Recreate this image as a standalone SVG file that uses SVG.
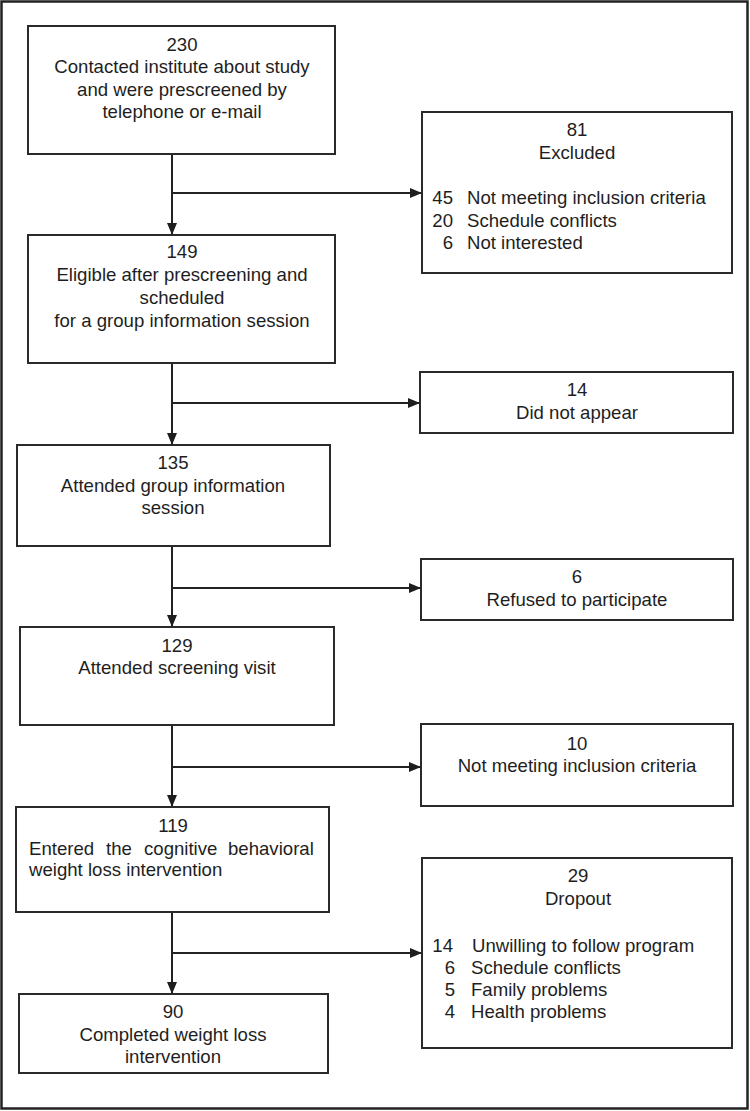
<svg xmlns="http://www.w3.org/2000/svg" width="750" height="1111" viewBox="0 0 750 1111">
<defs>
<style>
.box{fill:#fff;stroke:#2a2a2a;stroke-width:2}
.ln{fill:none;stroke:#222;stroke-width:2}
text{font-family:"Liberation Sans",Arial,sans-serif;font-size:18.6px;fill:#1e1e1e}
.c{text-anchor:middle}
.r{text-anchor:end}
</style>
<marker id="ah" viewBox="0 0 12 10" refX="12" refY="5" markerWidth="12" markerHeight="10" markerUnits="userSpaceOnUse" orient="auto">
<path d="M0,0 L12,5 L0,10 Z" fill="#1e1e1e"/>
</marker>
</defs>
<rect x="0" y="0" width="750" height="1111" fill="#fff"/>
<rect x="1.5" y="1.5" width="746" height="1107" fill="none" stroke="#222" stroke-width="2.5"/>

<g id="connectors">
<path class="ln" d="M172,154 V235" marker-end="url(#ah)"/>
<path class="ln" d="M172,193 H422" marker-end="url(#ah)"/>
<path class="ln" d="M172,363 V445" marker-end="url(#ah)"/>
<path class="ln" d="M172,403 H420" marker-end="url(#ah)"/>
<path class="ln" d="M172,546 V627" marker-end="url(#ah)"/>
<path class="ln" d="M172,588 H421" marker-end="url(#ah)"/>
<path class="ln" d="M172,726 V807" marker-end="url(#ah)"/>
<path class="ln" d="M172,767 H421" marker-end="url(#ah)"/>
<path class="ln" d="M172,912 V994" marker-end="url(#ah)"/>
<path class="ln" d="M172,953 H422" marker-end="url(#ah)"/>
</g>

<g id="n230">
<rect class="box" x="28" y="26" width="307" height="128"/>
<text class="c" x="182" y="51">230</text>
<text class="c" x="182" y="73">Contacted institute about study</text>
<text class="c" x="182" y="96">and were prescreened by</text>
<text class="c" x="182" y="118">telephone or e-mail</text>
</g>

<g id="n81">
<rect class="box" x="422" y="112" width="310" height="161"/>
<text class="c" x="577" y="136">81</text>
<text class="c" x="577" y="159">Excluded</text>
<text class="r" x="453" y="204">45</text><text x="467" y="204">Not meeting inclusion criteria</text>
<text class="r" x="453" y="227">20</text><text x="467" y="227">Schedule conflicts</text>
<text class="r" x="453" y="249">6</text><text x="467" y="249">Not interested</text>
</g>

<g id="n149">
<rect class="box" x="28" y="235" width="307" height="128"/>
<text class="c" x="182" y="258">149</text>
<text class="c" x="182" y="281">Eligible after prescreening and</text>
<text class="c" x="182" y="304">scheduled</text>
<text class="c" x="182" y="327">for a group information session</text>
</g>

<g id="n14">
<rect class="box" x="420" y="372" width="313" height="61"/>
<text class="c" x="577" y="396">14</text>
<text class="c" x="577" y="419">Did not appear</text>
</g>

<g id="n135">
<rect class="box" x="17" y="445" width="313" height="101"/>
<text class="c" x="173" y="469">135</text>
<text class="c" x="173" y="492">Attended group information</text>
<text class="c" x="173" y="514">session</text>
</g>

<g id="n6">
<rect class="box" x="421" y="559" width="312" height="61"/>
<text class="c" x="577" y="583">6</text>
<text class="c" x="577" y="606">Refused to participate</text>
</g>

<g id="n129">
<rect class="box" x="20" y="627" width="314" height="98"/>
<text class="c" x="177" y="652">129</text>
<text class="c" x="177" y="674">Attended screening visit</text>
</g>

<g id="n10">
<rect class="box" x="421" y="724" width="312" height="82"/>
<text class="c" x="577" y="750">10</text>
<text class="c" x="577" y="772">Not meeting inclusion criteria</text>
</g>

<g id="n119">
<rect class="box" x="16" y="807" width="313" height="105"/>
<text class="c" x="173" y="832">119</text>
<text y="855"><tspan x="29">Entered</tspan><tspan x="106">the</tspan><tspan x="144">cognitive</tspan><tspan x="228">behavioral</tspan></text>
<text x="29" y="876">weight loss intervention</text>
</g>

<g id="n29">
<rect class="box" x="422" y="858" width="310" height="190"/>
<text class="c" x="578" y="882">29</text>
<text class="c" x="578" y="905">Dropout</text>
<text class="r" x="453" y="952">14</text><text x="472" y="952">Unwilling to follow program</text>
<text class="r" x="455" y="974">6</text><text x="471" y="974">Schedule conflicts</text>
<text class="r" x="455" y="996">5</text><text x="471" y="996">Family problems</text>
<text class="r" x="455" y="1018">4</text><text x="471" y="1018">Health problems</text>
</g>

<g id="n90">
<rect class="box" x="19" y="994" width="309" height="79"/>
<text class="c" x="173" y="1018">90</text>
<text class="c" x="173" y="1041">Completed weight loss</text>
<text class="c" x="173" y="1063">intervention</text>
</g>
</svg>
